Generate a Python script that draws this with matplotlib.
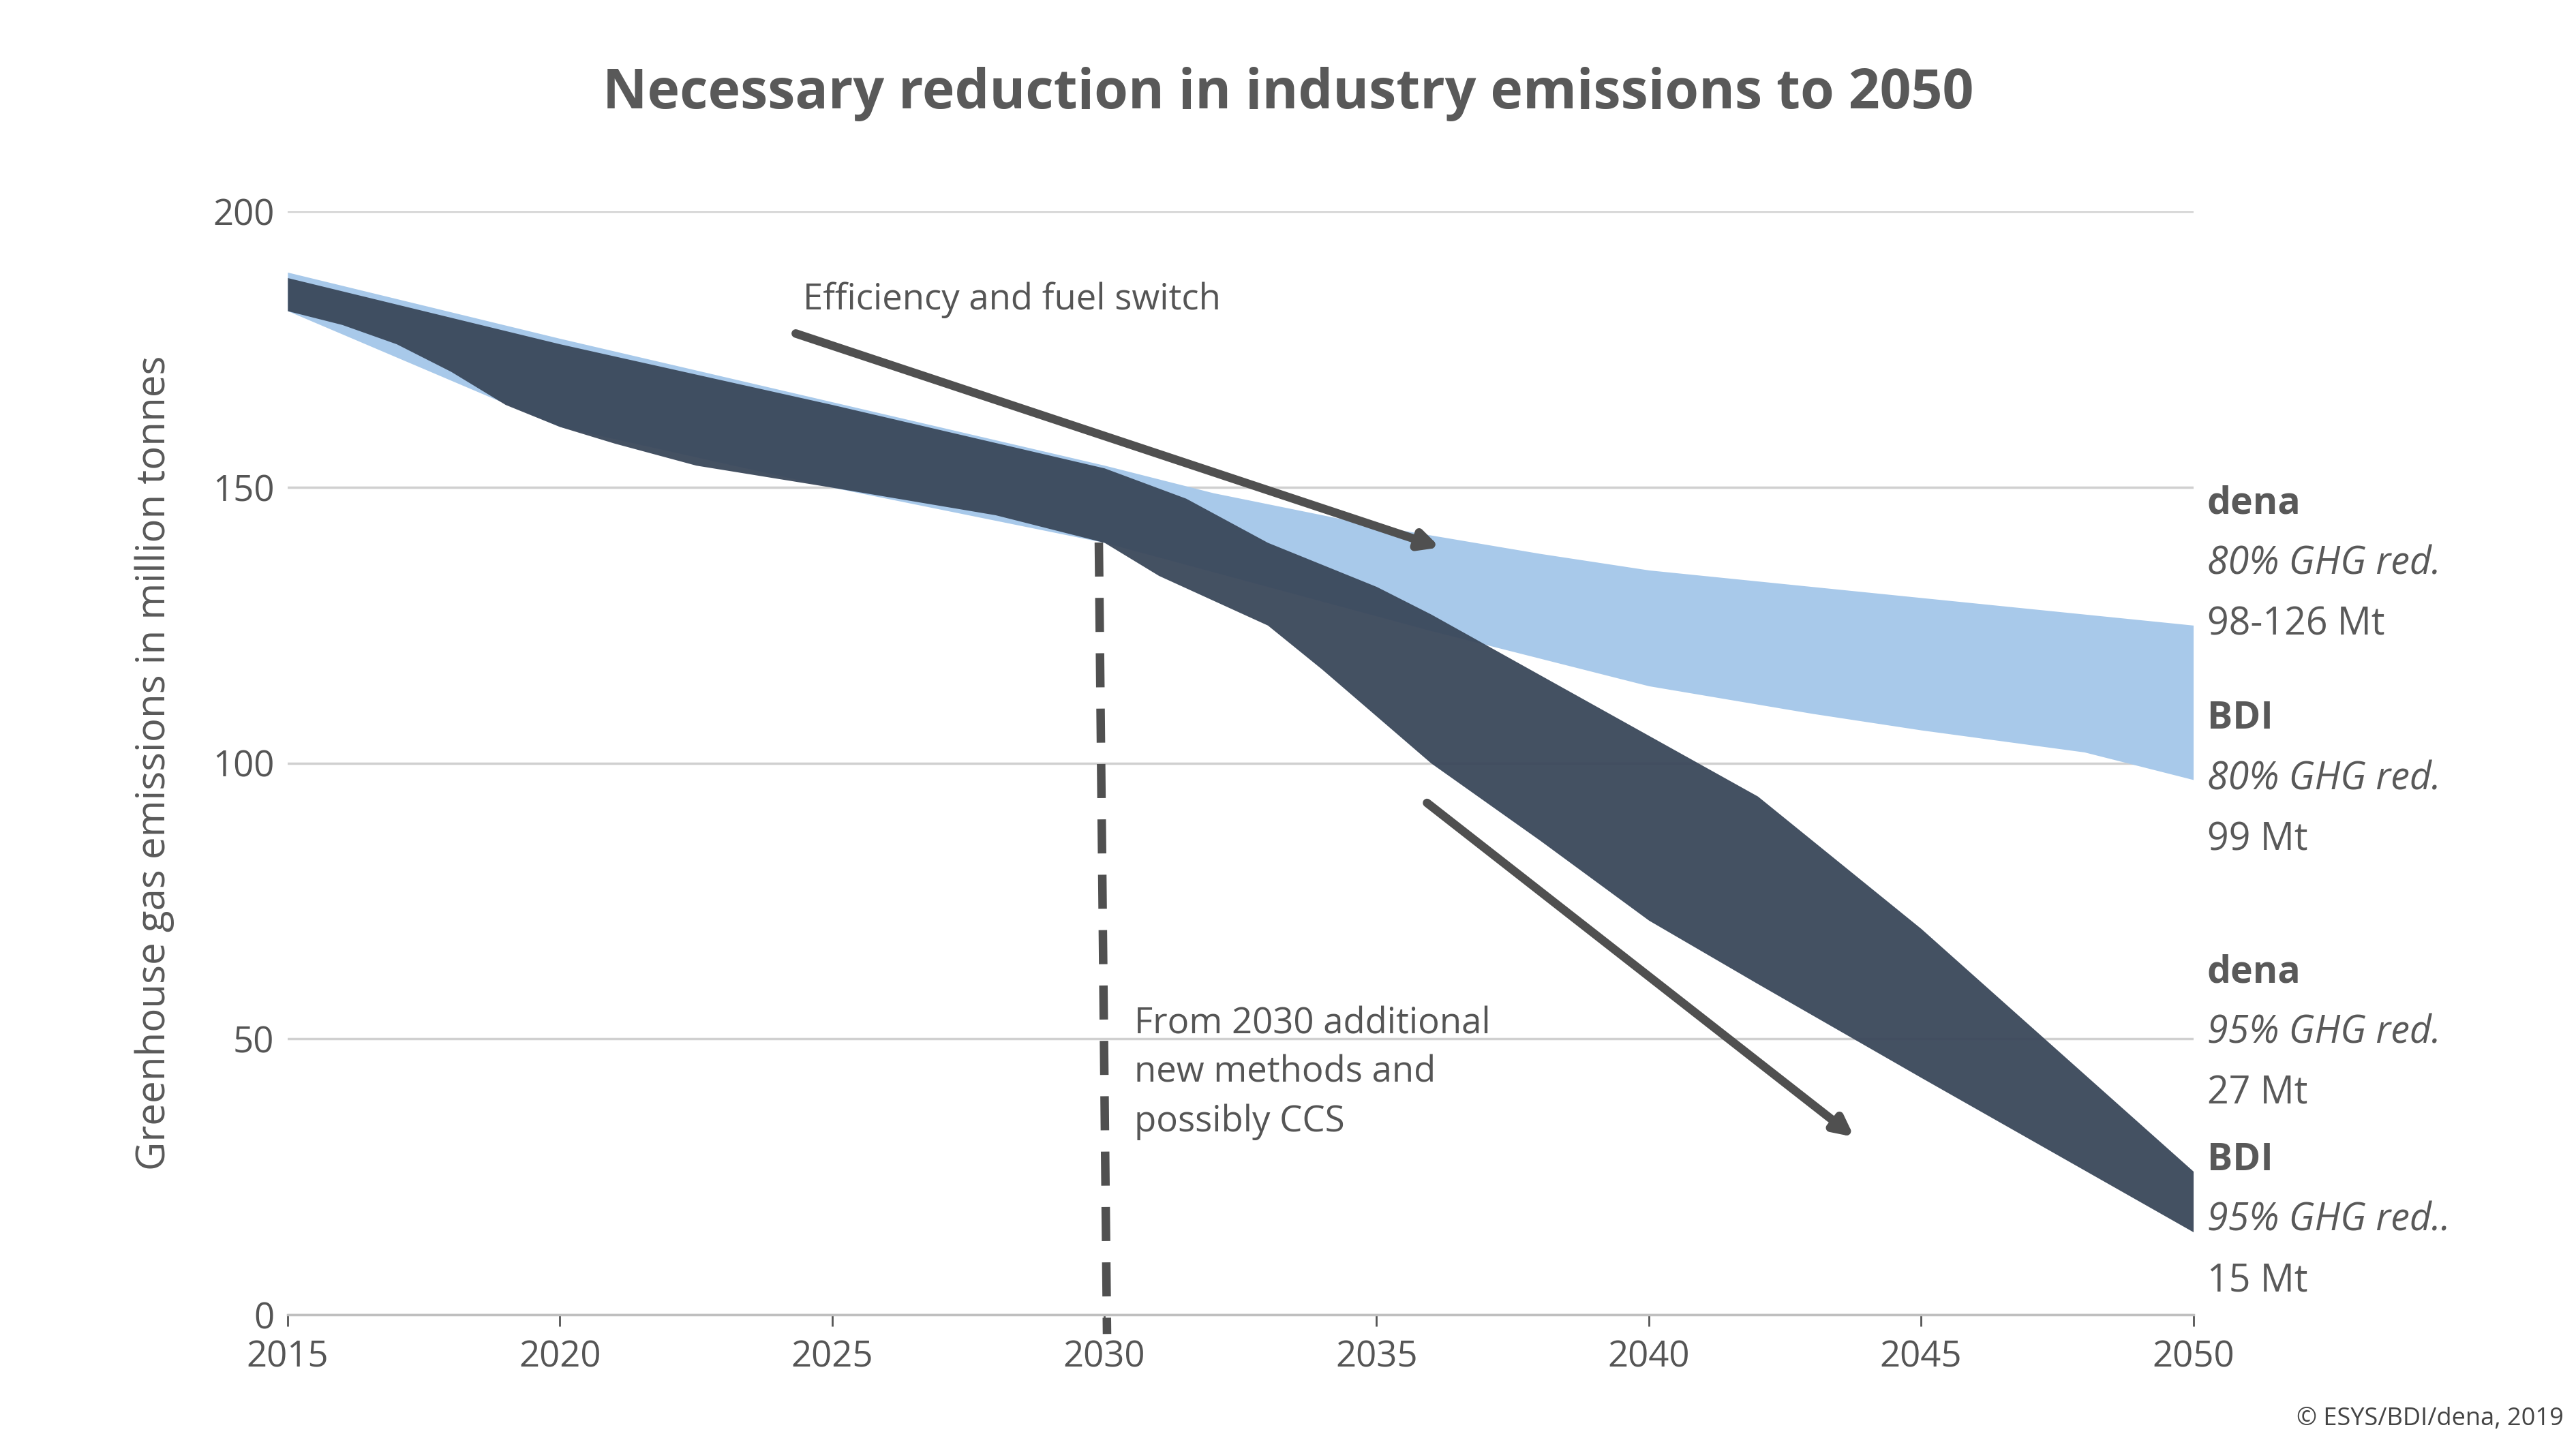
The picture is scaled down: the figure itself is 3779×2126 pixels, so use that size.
import matplotlib.pyplot as plt

plt.rcParams['font.family'] = ['Open Sans', 'DejaVu Sans']

# dark band (95% scenarios)
dark_years = [2015, 2016, 2017, 2018, 2019, 2020, 2021, 2022.5, 2025, 2028, 2030,
              2031, 2033, 2034, 2036, 2038, 2040, 2042, 2045, 2050]
dark_low = [182, 179.5, 176, 171, 165, 161, 158, 154, 150, 145, 140,
            134, 125, 117, 100, 86, 71.5, 60, 43, 15]
dark_up_years = [2015, 2020, 2025, 2030, 2031.5, 2033, 2035, 2036, 2038, 2040, 2042, 2045, 2050]
dark_up = [188, 176, 165, 153.5, 148, 140, 132, 127, 116, 105, 94, 70, 26]

# light band (80% scenarios)
light_years = [2015, 2020, 2025, 2030, 2032, 2035, 2038, 2040, 2045, 2050]
light_up = [189, 177, 165.5, 154, 149, 143, 138, 135, 130, 125]
light_low_years = [2015, 2020, 2025, 2030, 2033, 2036, 2038, 2040, 2043, 2045, 2048, 2050]
light_low = [182, 161, 150, 140, 132, 124, 119, 114, 109, 106, 102, 97]

import numpy as np
xs = np.linspace(2015, 2050, 351)

fig = plt.figure(figsize=(37.8, 21.26), dpi=100)
ax = fig.add_axes([0.1116, 0.0927, 0.7396, 0.7613])

ax.fill_between(xs, np.interp(xs, light_low_years, light_low), np.interp(xs, light_years, light_up),
                color='#a8c9ea', lw=0, zorder=2)
ax.fill_between(xs, np.interp(xs, dark_years, dark_low), np.interp(xs, dark_up_years, dark_up),
                color='#3a475a', alpha=0.95, lw=0, zorder=3)

ax.set_xlim(2015, 2050)
ax.set_ylim(0, 200)
ax.set_xticks(range(2015, 2051, 5))
ax.set_yticks(range(0, 201, 50))
ax.tick_params(labelsize=38, colors='#555555', length=12, width=2, pad=14)
ax.tick_params(axis='y', length=0)
ax.grid(axis='y', color='#d0d0d0', lw=2.5, zorder=0)
for s in ['top', 'right', 'left']:
    ax.spines[s].set_visible(False)
ax.spines['bottom'].set_color('#bfbfbf')
ax.spines['bottom'].set_linewidth(2.5)
ax.set_ylabel('Greenhouse gas emissions in million tonnes', fontsize=42, color='#595959', labelpad=40)

# arrows
ax.annotate('', xy=(2036.2, 139), xytext=(2024.3, 178),
            arrowprops=dict(arrowstyle='-|>,head_length=1.6,head_width=0.8', color='#505050', lw=9), zorder=5)
ax.annotate('', xy=(2043.8, 32), xytext=(2035.9, 93),
            arrowprops=dict(arrowstyle='-|>,head_length=1.6,head_width=0.8', color='#505050', lw=9), zorder=5)
ax.plot([2029.9, 2030.05], [140, -3.5], color='#505050', lw=9, ls=(0, (4, 2.5)), clip_on=False, zorder=5)

ax.text(2028.3, 184, 'Efficiency and fuel switch', fontsize=38, color='#555555', ha='center', va='center')
ax.text(2030.55, 56, 'From 2030 additional\nnew methods and\npossibly CCS', fontsize=38, color='#555555',
        va='top', linespacing=1.45)

labels = [(147, 'dena', 'bold', 'normal'), (136, '80% GHG red.', 'normal', 'italic'),
          (125, '98-126 Mt', 'normal', 'normal'),
          (108, 'BDI', 'bold', 'normal'), (97, '80% GHG red.', 'normal', 'italic'), (86, '99 Mt', 'normal', 'normal'),
          (62, 'dena', 'bold', 'normal'), (51, '95% GHG red.', 'normal', 'italic'), (40, '27 Mt', 'normal', 'normal'),
          (28, 'BDI', 'bold', 'normal'), (17, '95% GHG red..', 'normal', 'italic'), (6, '15 Mt', 'normal', 'normal')]
for y, t, w, st in labels:
    ax.text(2050.25, y, t, fontsize=40, color='#595959', fontweight=w, style=st, va='center', clip_on=False)

fig.text(0.5, 0.935, 'Necessary reduction in industry emissions to 2050', fontsize=58, fontweight='bold',
         color='#595959', ha='center', va='center')
fig.text(0.995, 0.012, '© ESYS/BDI/dena, 2019', fontsize=26, color='#444444', ha='right', va='bottom')

fig.savefig('out.png', dpi=100, facecolor='white')
